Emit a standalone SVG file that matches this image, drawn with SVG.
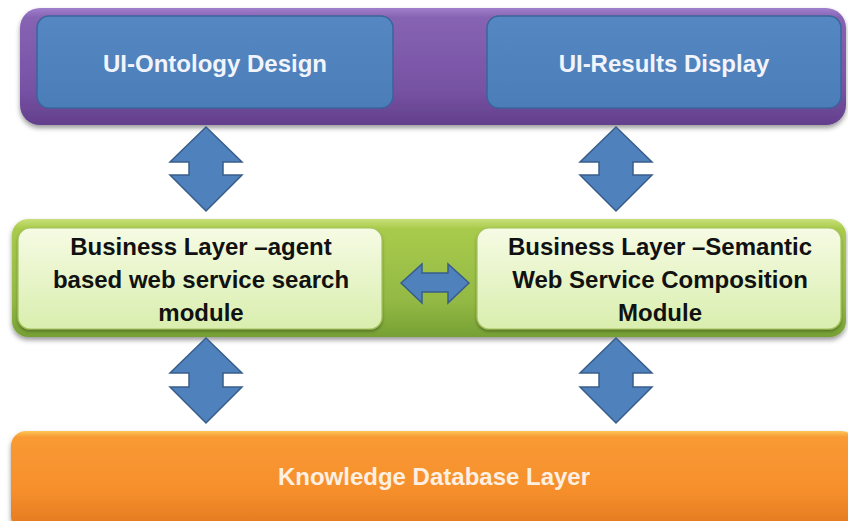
<svg xmlns="http://www.w3.org/2000/svg" width="848" height="521" viewBox="0 0 848 521">
<defs>
<linearGradient id="gPurple" x1="0" y1="0" x2="0" y2="1">
<stop offset="0" stop-color="#a07fcc"/>
<stop offset="0.08" stop-color="#8763b4"/>
<stop offset="0.7" stop-color="#7752a4"/>
<stop offset="1" stop-color="#633f8c"/>
</linearGradient>
<linearGradient id="gGreen" x1="0" y1="0" x2="0" y2="1">
<stop offset="0" stop-color="#c8e07a"/>
<stop offset="0.08" stop-color="#a9cb4c"/>
<stop offset="0.7" stop-color="#93b944"/>
<stop offset="1" stop-color="#76a034"/>
</linearGradient>
<linearGradient id="gLight" x1="0" y1="0" x2="0" y2="1">
<stop offset="0" stop-color="#f6fbe4"/>
<stop offset="1" stop-color="#d9eeae"/>
</linearGradient>
<linearGradient id="gOrange" x1="0" y1="0" x2="0" y2="1">
<stop offset="0" stop-color="#fcc656"/>
<stop offset="0.06" stop-color="#f99a34"/>
<stop offset="0.6" stop-color="#f68f2c"/>
<stop offset="1" stop-color="#e2771e"/>
</linearGradient>
<linearGradient id="gBlue" x1="0" y1="0" x2="0" y2="1">
<stop offset="0" stop-color="#5587c2"/>
<stop offset="1" stop-color="#4b7db8"/>
</linearGradient>
<filter id="shadow" x="-5%" y="-10%" width="110%" height="130%">
<feDropShadow dx="0" dy="3" stdDeviation="2.5" flood-color="#000" flood-opacity="0.4"/>
</filter>
<filter id="shadowS" x="-5%" y="-10%" width="110%" height="130%">
<feDropShadow dx="0" dy="2" stdDeviation="1.5" flood-color="#000" flood-opacity="0.3"/>
</filter>
</defs>
<style>
.lbl{font-family:"Liberation Sans",Arial,sans-serif;font-weight:bold;font-size:24px;text-anchor:middle}
.wt{fill:#f2f4fb}
.bk{fill:#111}
.ow{fill:#fdf0e2}
.blue{fill:url(#gBlue);stroke:#3a659a;stroke-width:1.5}
.light{fill:url(#gLight);stroke:#a3c25e;stroke-width:1.2}
.arr{fill:#4f81bd;stroke:#385d8a;stroke-width:1.5;stroke-linejoin:miter}
</style>
<rect width="848" height="521" fill="#ffffff"/>

<g id="ui-layer">
<rect x="20" y="8" width="826" height="117" rx="20" fill="url(#gPurple)" filter="url(#shadow)"/>
</g>
<g id="ui-ontology">
<rect class="blue" x="37" y="16" width="356" height="92" rx="12"/>
<text class="lbl wt" x="215" y="72">UI-Ontology Design</text>
</g>
<g id="ui-results">
<rect class="blue" x="487" y="16" width="354" height="92" rx="12"/>
<text class="lbl wt" x="664" y="72">UI-Results Display</text>
</g>

<g id="business-layer">
<rect x="12" y="219" width="834" height="118" rx="16" fill="url(#gGreen)" filter="url(#shadow)"/>
</g>
<g id="agent-search">
<rect class="light" x="18" y="228" width="364" height="101" rx="12" filter="url(#shadowS)"/>
<text class="lbl bk" x="201" y="255">Business Layer –agent</text>
<text class="lbl bk" x="201" y="288">based web service search</text>
<text class="lbl bk" x="201" y="321">module</text>
</g>
<g id="semantic-composition">
<rect class="light" x="477" y="228" width="364" height="101" rx="12" filter="url(#shadowS)"/>
<text class="lbl bk" x="660" y="255">Business Layer –Semantic</text>
<text class="lbl bk" x="660" y="288">Web Service Composition</text>
<text class="lbl bk" x="660" y="321">Module</text>
</g>

<g id="knowledge-db">
<rect x="11" y="431" width="845" height="100" rx="15" fill="url(#gOrange)" filter="url(#shadow)"/>
<text class="lbl ow" x="434" y="485">Knowledge Database Layer</text>
</g>

<g id="connectors">
<path class="arr" d="M206,127 L242,162 L223,162 L223,175 L242,175 L206,211 L170,175 L189,175 L189,162 L170,162 Z"/>
<path class="arr" d="M616,127 L652,162 L633,162 L633,175 L652,175 L616,211 L580,175 L599,175 L599,162 L580,162 Z"/>
<path class="arr" d="M206,338 L242,373 L223,373 L223,387 L242,387 L206,423 L170,387 L189,387 L189,373 L170,373 Z"/>
<path class="arr" d="M616,338 L652,373 L633,373 L633,387 L652,387 L616,423 L580,387 L599,387 L599,373 L580,373 Z"/>
<path class="arr" d="M401,283 L422,264 L422,273 L448,273 L448,264 L469,283 L448,303 L448,292 L422,292 L422,303 Z"/>
</g>
</svg>
